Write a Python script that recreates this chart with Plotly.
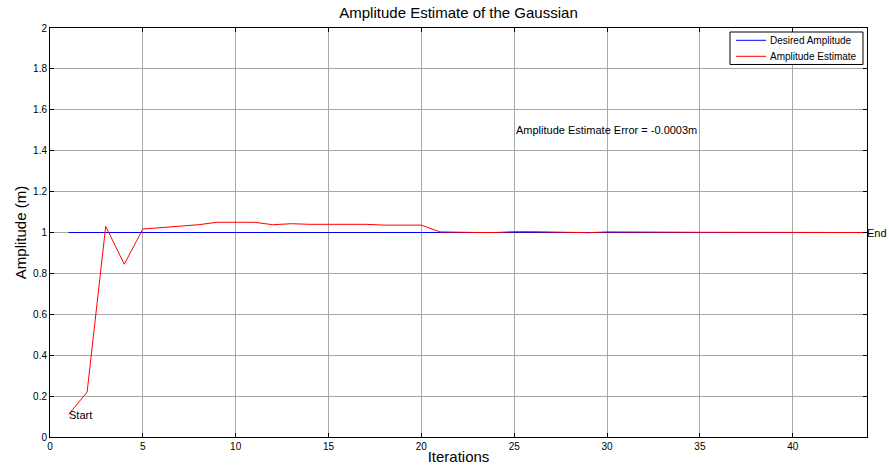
import plotly.graph_objects as go

# Iteration index and per-iteration amplitude estimate of the fitted Gaussian
iterations = list(range(1, 45))
amplitude_estimate = [
    0.11, 0.22, 1.03, 0.845, 1.017, 1.025, 1.03, 1.038, 1.05, 1.05,
    1.05, 1.038, 1.043, 1.04, 1.04, 1.04, 1.04, 1.036, 1.036, 1.036,
    1.003, 1.0, 1.0, 1.0, 1.004, 1.004, 1.003, 0.999, 0.999, 1.003,
    1.002, 1.002, 1.002, 1.001, 1.001, 1.001, 1.001, 1.0, 1.0, 1.0,
    1.0, 1.0, 1.0, 0.9997,
]
desired_amplitude = [1.0] * len(iterations)

x_ticks = [0, 5, 10, 15, 20, 25, 30, 35, 40]
y_ticks = [0, 0.2, 0.4, 0.6, 0.8, 1, 1.2, 1.4, 1.6, 1.8, 2]

series_names = ["Desired Amplitude", "Amplitude Estimate"]
series_colors = ["#0000ff", "#ff0000"]

font = "Liberation Sans, Arial, sans-serif"

fig = go.Figure()
fig.add_trace(go.Scatter(
    x=iterations, y=desired_amplitude, mode="lines",
    name=series_names[0], line=dict(color=series_colors[0], width=1),
))
fig.add_trace(go.Scatter(
    x=iterations, y=amplitude_estimate, mode="lines",
    name=series_names[1], line=dict(color=series_colors[1], width=1),
))

fig.add_annotation(x=iterations[0], y=amplitude_estimate[0], text="Start",
                   xanchor="left", yanchor="middle", showarrow=False, xshift=-2,
                   font=dict(size=11, color="black", family=font))
fig.add_annotation(x=iterations[-1], y=amplitude_estimate[-1], text="End",
                   xanchor="left", yanchor="middle", showarrow=False, xshift=-2,
                   font=dict(size=11, color="black", family=font))
fig.add_annotation(x=25, y=1.5, text="Amplitude Estimate Error = -0.0003m",
                   xanchor="left", yanchor="middle", showarrow=False,
                   font=dict(size=11, color="black", family=font))

# Compact boxed legend in the upper-right corner of the axes
box_x0, box_x1, box_y0, box_y1 = 0.8323, 0.9951, 0.9108, 0.9902
sample_x0, sample_x1, label_x = 0.8397, 0.8764, 0.8813
row_y = [0.9699, 0.9308]
fig.add_shape(type="rect", xref="paper", yref="paper",
              x0=box_x0, x1=box_x1, y0=box_y0, y1=box_y1,
              line=dict(color="black", width=1), fillcolor="white", layer="above")
for name, color, yy in zip(series_names, series_colors, row_y):
    fig.add_shape(type="line", xref="paper", yref="paper",
                  x0=sample_x0, x1=sample_x1, y0=yy, y1=yy,
                  line=dict(color=color, width=1), layer="above")
    fig.add_annotation(xref="paper", yref="paper", x=label_x, y=yy, text=name,
                       xanchor="left", yanchor="middle", showarrow=False,
                       xshift=-2, font=dict(size=10, color="black", family=font))

axis_common = dict(
    showgrid=True, gridcolor="#a8a8a8", gridwidth=1,
    showline=True, linecolor="black", linewidth=1, mirror="ticks",
    ticks="inside", ticklen=4, tickcolor="black",
    zeroline=False, tickfont=dict(size=10, color="black", family=font),
)

fig.update_layout(
    width=889, height=474,
    margin=dict(l=50, r=22, t=28, b=37),
    paper_bgcolor="white", plot_bgcolor="white",
    title=dict(text="Amplitude Estimate of the Gaussian", xref="paper", x=0.5,
               xanchor="center", y=0.974, yanchor="middle",
               font=dict(size=15, color="black", family=font)),
    xaxis=dict(range=[0, 44], tickvals=x_ticks,
               title=dict(text="Iterations", standoff=0,
                          font=dict(size=15, color="black", family=font)),
               **axis_common),
    yaxis=dict(range=[0, 2], tickvals=y_ticks,
               title=dict(text="Amplitude (m)", standoff=2,
                          font=dict(size=15, color="black", family=font)),
               **axis_common),
    showlegend=False,
)

fig.write_html("out.html")
